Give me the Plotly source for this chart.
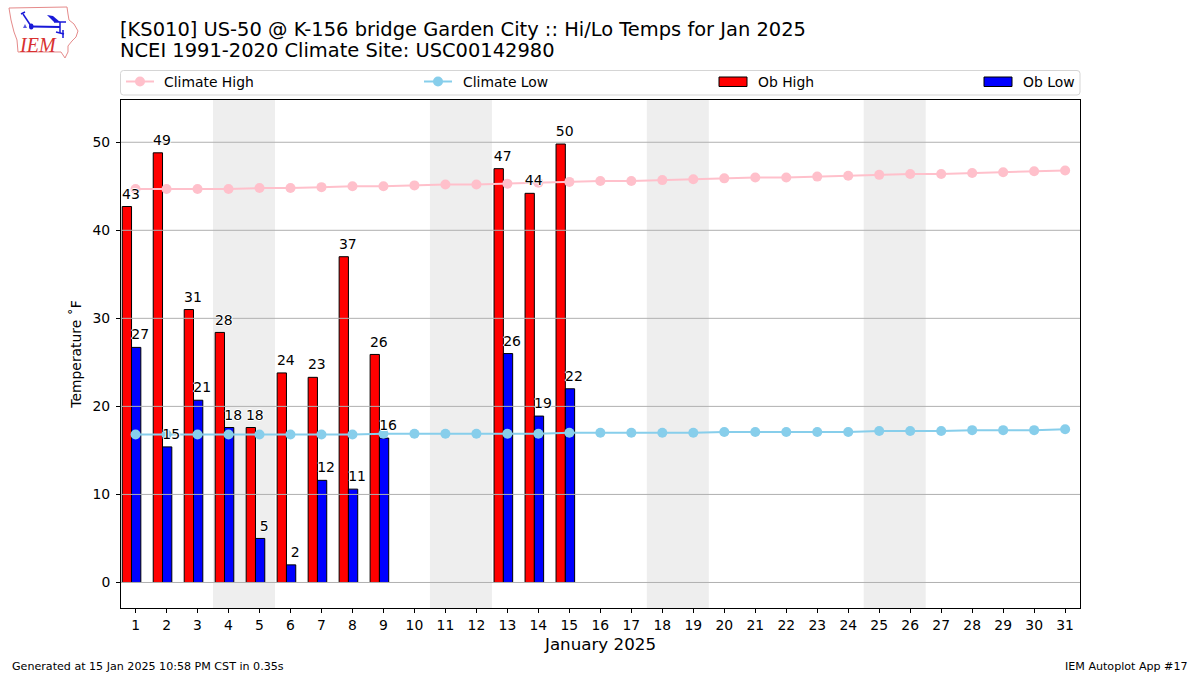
import plotly.graph_objects as go

days = list(range(1, 32))
ob_high = [42.7, 48.8, 31.0, 28.4, 17.6, 23.8, 23.3, 37.0, 25.9, None, None, None, 47.0, 44.2, 49.8] + [None] * 16
ob_low = [26.7, 15.4, 20.7, 17.6, 5.0, 2.0, 11.6, 10.6, 16.4, None, None, None, 26.0, 18.9, 22.0] + [None] * 16
clim_high = [44.7, 44.7, 44.7, 44.7, 44.8, 44.8, 44.9, 45.0, 45.0, 45.1, 45.2, 45.2, 45.3, 45.4, 45.5, 45.6,
             45.6, 45.7, 45.8, 45.9, 46.0, 46.0, 46.1, 46.2, 46.3, 46.4, 46.4, 46.5, 46.6, 46.7, 46.8]
clim_low = [16.8, 16.8, 16.8, 16.8, 16.8, 16.8, 16.8, 16.8, 16.9, 16.9, 16.9, 16.9, 16.9, 16.9, 17.0, 17.0,
            17.0, 17.0, 17.0, 17.1, 17.1, 17.1, 17.1, 17.1, 17.2, 17.2, 17.2, 17.3, 17.3, 17.3, 17.4]
weekends = [(3.5, 5.5), (10.5, 12.5), (17.5, 19.5), (24.5, 26.5)]
y_ticks = [0, 10, 20, 30, 40, 50]
x_range = [0.53, 31.48]
y_range = [-2.9, 54.8]
LABEL_GAP = 0.5

FONT = "DejaVu Sans"
L, R, T, B = 121, 1080, 100, 608
W, H = R - L, B - T


def px(x):
    return (x - L) / W


def py(y):
    return (B - y) / H


def path(points, close=False):
    s = "M " + " L ".join(f"{px(a):.5f},{py(b):.5f}" for a, b in points)
    return s + (" Z" if close else "")


def rounded(x0, y0, x1, y1, r):
    return (f"M {px(x0 + r):.5f},{py(y0):.5f} L {px(x1 - r):.5f},{py(y0):.5f} "
            f"Q {px(x1):.5f},{py(y0):.5f} {px(x1):.5f},{py(y0 + r):.5f} L {px(x1):.5f},{py(y1 - r):.5f} "
            f"Q {px(x1):.5f},{py(y1):.5f} {px(x1 - r):.5f},{py(y1):.5f} L {px(x0 + r):.5f},{py(y1):.5f} "
            f"Q {px(x0):.5f},{py(y1):.5f} {px(x0):.5f},{py(y1 - r):.5f} L {px(x0):.5f},{py(y0 + r):.5f} "
            f"Q {px(x0):.5f},{py(y0):.5f} {px(x0 + r):.5f},{py(y0):.5f} Z")


fig = go.Figure()

fig.add_trace(go.Bar(x=days, y=ob_high, name="Ob High", width=0.3, offset=-0.43, showlegend=False,
                     marker=dict(color="#ff0000", line=dict(color="black", width=1)), hoverinfo="x+y"))
fig.add_trace(go.Bar(x=days, y=ob_low, name="Ob Low", width=0.3, offset=-0.13, showlegend=False,
                     marker=dict(color="#0000ff", line=dict(color="black", width=1)), hoverinfo="x+y"))

grid_x, grid_y = [], []
for t in y_ticks:
    grid_x += [x_range[0], x_range[1], None]
    grid_y += [t, t, None]
fig.add_trace(go.Scatter(x=grid_x, y=grid_y, mode="lines", line=dict(color="#b0b0b0", width=1),
                         showlegend=False, hoverinfo="skip"))

fig.add_trace(go.Scatter(x=days, y=clim_high, name="Climate High", mode="lines+markers", showlegend=False,
                         line=dict(color="#ffc0cb", width=2), marker=dict(color="#ffc0cb", size=10)))
fig.add_trace(go.Scatter(x=days, y=clim_low, name="Climate Low", mode="lines+markers", showlegend=False,
                         line=dict(color="#87ceeb", width=2), marker=dict(color="#87ceeb", size=10)))

HALO = "1px 0 0 white, -1px 0 0 white, 0 1px 0 white, 0 -1px 0 white"
hi_pairs = [(d, v) for d, v in zip(days, ob_high) if v is not None]
lo_pairs = [(d, v) for d, v in zip(days, ob_low) if v is not None]
for pairs, dx in ((hi_pairs, -0.15), (lo_pairs, 0.15)):
    fig.add_trace(go.Scatter(x=[d + dx for d, _ in pairs], y=[v + LABEL_GAP for _, v in pairs], mode="text",
                             text=[f"{v:.0f}" for _, v in pairs], textposition="top center",
                             textfont=dict(family=FONT, size=14, color="black", shadow=HALO),
                             showlegend=False, hoverinfo="skip", cliponaxis=False))

shapes = []
for a, b in weekends:
    shapes.append(dict(type="rect", xref="x", yref="paper", x0=a, x1=b, y0=0, y1=1, layer="below",
                       fillcolor="#eeeeee", line=dict(width=0)))

# legend frame
shapes.append(dict(type="path", xref="paper", yref="paper", path=rounded(120.5, 70.5, 1080, 95, 3),
                   line=dict(color="#d5d5d5", width=1), fillcolor="white"))
# legend keys
for x0, col in ((126, "#ffc0cb"), (424, "#87ceeb")):
    shapes.append(dict(type="line", xref="paper", yref="paper", x0=px(x0), x1=px(x0 + 28), y0=py(81.5), y1=py(81.5),
                       line=dict(color=col, width=2)))
    shapes.append(dict(type="circle", xref="paper", yref="paper", x0=px(x0 + 9), x1=px(x0 + 19), y0=py(86.5), y1=py(76.5),
                       fillcolor=col, line=dict(width=0)))
for x0, col in ((719, "#ff0000"), (984, "#0000ff")):
    shapes.append(dict(type="rect", xref="paper", yref="paper", x0=px(x0), x1=px(x0 + 28), y0=py(86.5), y1=py(77),
                       fillcolor=col, line=dict(color="black", width=1)))

# IEM logo
state = [(9, 8), (67, 7), (68, 14), (69, 20), (74, 24), (78, 31), (76, 37), (72, 41), (68, 46), (68, 52),
         (65, 58), (61, 52), (18, 52), (17, 40), (14, 32), (11, 20)]
shapes.append(dict(type="path", xref="paper", yref="paper", path=path(state, True),
                   line=dict(color="#e58a8a", width=1)))
for seg, w in (([(31, 26.5), (60, 27)], 2), ([(23, 14), (31, 26)], 1.5), ([(60, 22), (60, 33)], 1.5),
               ([(63, 30), (63, 38)], 1.5), ([(54, 22), (66, 22)], 1.5), ([(21, 14), (25, 12)], 1.5),
               ([(56, 32), (64, 34)], 1.5)):
    shapes.append(dict(type="path", xref="paper", yref="paper", path=path(seg),
                       line=dict(color="#1818d8", width=w)))
shapes.append(dict(type="path", xref="paper", yref="paper", path=path([(47, 15), (53, 16), (60, 22), (54, 22)], True),
                   fillcolor="#1818d8", line=dict(width=0)))
shapes.append(dict(type="circle", xref="paper", yref="paper", x0=px(29), x1=px(33.5), y0=py(29.5), y1=py(23.5),
                   fillcolor="#1818d8", line=dict(width=0)))
shapes.append(dict(type="path", xref="paper", yref="paper", path=path([(23, 28), (25, 24), (27, 28)], True),
                   fillcolor="#5a5ae0", line=dict(width=0)))

ann = []


def text(x, y, s, size, anchor="left", family=FONT, color="black"):
    ann.append(dict(xref="paper", yref="paper", x=px(x), y=py(y), text=s, showarrow=False, xanchor=anchor,
                    yanchor="middle", font=dict(family=family, size=size, color=color)))


text(118, 29, "[KS010] US-50 @ K-156 bridge Garden City :: Hi/Lo Temps for Jan 2025", 19.45)
text(118, 51, "NCEI 1991-2020 Climate Site: USC00142980", 19.45)
text(162, 81.5, "Climate High", 13.9)
text(461, 81.5, "Climate Low", 13.9)
text(756, 81.5, "Ob High", 13.9)
text(1021, 81.5, "Ob Low", 13.9)
text(10, 666, "Generated at 15 Jan 2025 10:58 PM CST in 0.35s", 11.1)
text(1190, 666, "IEM Autoplot App #17", 11.1, anchor="right")
text(37.5, 45, "<i>IEM</i>", 20, anchor="center", family="Liberation Serif", color="#d83030")

fig.update_layout(
    width=1200, height=675, autosize=False, barmode="overlay",
    margin=dict(l=L, r=1200 - R, t=T, b=675 - B, pad=0),
    paper_bgcolor="white", plot_bgcolor="white", showlegend=False,
    font=dict(family=FONT, size=14, color="black"),
    shapes=shapes, annotations=ann,
    xaxis=dict(range=x_range, tickmode="array", tickvals=days, ticktext=[str(d) for d in days],
               showgrid=False, zeroline=False, ticks="outside", ticklen=4, tickwidth=1, tickcolor="black",
               showline=True, linecolor="black", linewidth=1, mirror=True, tickfont=dict(size=13.9),
               title=dict(text="January 2025", font=dict(size=16.7), standoff=6)),
    yaxis=dict(range=y_range, tickmode="array", tickvals=y_ticks, showgrid=False, zeroline=False,
               ticks="outside", ticklen=4, tickwidth=1, tickcolor="black", showline=True, linecolor="black",
               linewidth=1, mirror=True, tickfont=dict(size=13.9), ticklabelstandoff=3,
               title=dict(text="Temperature ˚F", font=dict(size=13.9), standoff=7)),
)

fig.write_html("out.html", config={"displayModeBar": False}, post_script="document.body.style.margin='0';")
